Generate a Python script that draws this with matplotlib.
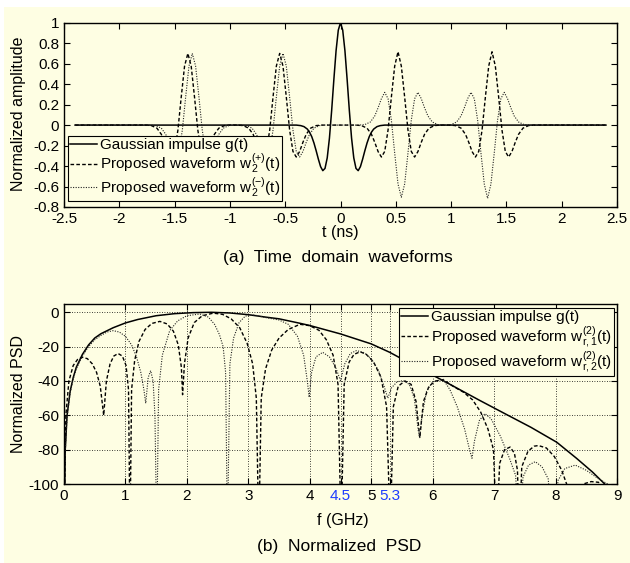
import matplotlib
matplotlib.use("Agg")
import matplotlib.pyplot as plt
from matplotlib.patches import Rectangle

plt.rcParams['font.family'] = ['Liberation Sans', 'DejaVu Sans']
plt.rcParams['mathtext.fontset'] = 'custom'
plt.rcParams['mathtext.rm'] = 'Liberation Sans'
plt.rcParams['mathtext.it'] = 'Liberation Sans:italic'
plt.rcParams['axes.unicode_minus'] = False

# ---- (a) time domain waveforms ----
t_gauss = [-2.40, -0.40, -0.36, -0.33, -0.30, -0.28, -0.26, -0.24, -0.22, -0.20, -0.18,
           -0.16, -0.14, -0.12, -0.10, -0.08, -0.06, -0.04, -0.02, 0.00, 0.02, 0.04,
           0.06, 0.08, 0.10, 0.12, 0.14, 0.16, 0.18, 0.20, 0.22, 0.24, 0.26, 0.28,
           0.30, 0.33, 0.36, 0.40, 2.40]
amp_gauss = [0, 0, -0.005, -0.015, -0.039, -0.069, -0.113, -0.175, -0.251, -0.333, -0.406,
             -0.445, -0.423, -0.320, -0.127, 0.142, 0.445, 0.727, 0.927, 1.0, 0.927, 0.727,
             0.445, 0.142, -0.127, -0.320, -0.423, -0.445, -0.406, -0.333, -0.251, -0.175,
             -0.113, -0.069, -0.039, -0.015, -0.005, 0, 0]

t_wplus = [-2.40,
           -1.76, -1.71, -1.66, -1.62, -1.59, -1.56, -1.53, -1.50, -1.47, -1.44, -1.41, -1.38,
           -1.35, -1.32, -1.29, -1.26, -1.23, -1.20, -1.17, -1.14, -1.10, -1.05, -1.00,
           -0.93, -0.88, -0.83, -0.79, -0.76, -0.73, -0.70, -0.67, -0.64, -0.61, -0.58, -0.55,
           -0.52, -0.49, -0.46, -0.43, -0.40, -0.37, -0.34, -0.31, -0.27, -0.22, -0.17,
           0.14, 0.19, 0.24, 0.28, 0.31, 0.34, 0.37, 0.40, 0.43, 0.46, 0.49, 0.52,
           0.55, 0.58, 0.61, 0.64, 0.67, 0.70, 0.73, 0.76, 0.80, 0.85, 0.90,
           0.99, 1.04, 1.09, 1.13, 1.16, 1.19, 1.22, 1.25, 1.28, 1.31, 1.34, 1.37,
           1.40, 1.43, 1.46, 1.49, 1.52, 1.55, 1.58, 1.61, 1.65, 1.70, 1.75,
           2.40]
amp_wplus = [0,
             0, -0.005, -0.030, -0.090, -0.169, -0.259, -0.312, -0.257, -0.048, 0.274, 0.576, 0.700,
             0.576, 0.274, -0.048, -0.257, -0.312, -0.259, -0.169, -0.090, -0.030, -0.005, 0,
             0, -0.005, -0.030, -0.090, -0.169, -0.259, -0.312, -0.257, -0.048, 0.274, 0.576, 0.700,
             0.576, 0.274, -0.048, -0.257, -0.312, -0.259, -0.169, -0.090, -0.030, -0.005, 0,
             0, -0.005, -0.030, -0.090, -0.169, -0.259, -0.312, -0.257, -0.048, 0.274, 0.576, 0.716,
             0.576, 0.274, -0.048, -0.257, -0.312, -0.259, -0.169, -0.090, -0.030, -0.005, 0,
             0, -0.005, -0.030, -0.090, -0.169, -0.259, -0.312, -0.257, -0.048, 0.274, 0.576, 0.716,
             0.576, 0.274, -0.048, -0.257, -0.312, -0.259, -0.169, -0.090, -0.030, -0.005, 0,
             0]

t_wminus = [-2.40,
            -1.72, -1.67, -1.62, -1.58, -1.55, -1.52, -1.49, -1.46, -1.43, -1.40, -1.37, -1.34,
            -1.31, -1.28, -1.25, -1.22, -1.19, -1.16, -1.13, -1.10, -1.06, -1.01, -0.96,
            -0.90, -0.85, -0.80, -0.76, -0.73, -0.70, -0.67, -0.64, -0.61, -0.58, -0.55, -0.52,
            -0.49, -0.46, -0.43, -0.40, -0.37, -0.34, -0.31, -0.28, -0.24, -0.19, -0.14,
            0.17, 0.22, 0.27, 0.31, 0.34, 0.37, 0.40, 0.43, 0.46, 0.49, 0.52, 0.55,
            0.58, 0.61, 0.64, 0.67, 0.70, 0.73, 0.76, 0.79, 0.83, 0.88, 0.93,
            0.95, 1.00, 1.05, 1.09, 1.12, 1.15, 1.18, 1.21, 1.24, 1.27, 1.30, 1.33,
            1.36, 1.39, 1.42, 1.45, 1.48, 1.51, 1.54, 1.57, 1.61, 1.66, 1.71,
            2.40]
amp_wminus = [0,
              0, -0.005, -0.030, -0.090, -0.169, -0.259, -0.312, -0.257, -0.048, 0.274, 0.576, 0.700,
              0.576, 0.274, -0.048, -0.257, -0.312, -0.259, -0.169, -0.090, -0.030, -0.005, 0,
              0, -0.005, -0.030, -0.090, -0.169, -0.259, -0.312, -0.257, -0.048, 0.274, 0.576, 0.700,
              0.576, 0.274, -0.048, -0.257, -0.312, -0.259, -0.169, -0.090, -0.030, -0.005, 0,
              0, 0.005, 0.030, 0.090, 0.169, 0.259, 0.320, 0.257, 0.048, -0.274, -0.576, -0.705,
              -0.576, -0.274, 0.048, 0.257, 0.320, 0.259, 0.169, 0.090, 0.030, 0.005, 0,
              0, 0.005, 0.030, 0.090, 0.169, 0.259, 0.320, 0.257, 0.048, -0.274, -0.576, -0.716,
              -0.576, -0.274, 0.048, 0.257, 0.320, 0.259, 0.169, 0.090, 0.030, 0.005, 0,
              0]

t_ticks = [-2.5, -2, -1.5, -1, -0.5, 0, 0.5, 1, 1.5, 2, 2.5]
t_ticklabels = ['-2.5', '-2', '-1.5', '-1', '-0.5', '0', '0.5', '1', '1.5', '2', '2.5']
amp_ticks = [-0.8, -0.6, -0.4, -0.2, 0, 0.2, 0.4, 0.6, 0.8, 1]
amp_ticklabels = ['-0.8', '-0.6', '-0.4', '-0.2', '0', '0.2', '0.4', '0.6', '0.8', '1']

# ---- (b) normalized PSD (dB) ----
f_gauss = [0.0, 0.02, 0.05, 0.10, 0.15, 0.20, 0.30, 0.40, 0.50, 0.60, 0.80, 1.00, 1.20,
           1.50, 1.80, 2.10, 2.40, 2.70, 3.00, 3.30, 3.50, 3.84, 4.00, 4.50, 5.00, 5.30,
           5.70, 6.17, 6.77, 7.20, 7.60, 8.02, 8.34, 8.60, 8.80]
psd_gauss = [-130, -80, -60, -46, -38, -32, -24.5, -19, -15, -12.5, -9, -6.2, -4.2,
             -2.0, -0.8, -0.2, 0, -0.4, -1.4, -2.9, -3.8, -6.4, -7.7, -12.6, -18.4, -23.3,
             -31, -39.8, -51.4, -59.5, -67, -75.7, -85, -93, -100]

f_r1 = [0.0, 0.03, 0.08, 0.15, 0.22, 0.30, 0.38, 0.46, 0.53, 0.59, 0.646, 0.69, 0.75, 0.81,
        0.88, 0.95, 1.01, 1.05, 1.074, 1.10, 1.15, 1.22, 1.32, 1.43, 1.56, 1.68, 1.78, 1.86,
        1.91, 1.93, 1.96, 2.02, 2.12, 2.25, 2.43, 2.58, 2.72, 2.86, 2.98, 3.07, 3.13, 3.17,
        3.21, 3.28, 3.38, 3.50, 3.65, 3.84, 4.00, 4.15, 4.27, 4.38, 4.46, 4.51, 4.56, 4.64,
        4.72, 4.82, 4.92, 5.04, 5.16, 5.25, 5.31, 5.36, 5.44, 5.55, 5.65, 5.73, 5.79, 5.85,
        5.94, 6.05, 6.17, 6.35, 6.50, 6.65, 6.78, 6.90, 6.99, 7.04, 7.09, 7.17, 7.26, 7.33,
        7.38, 7.41, 7.45, 7.55, 7.65, 7.72, 7.85, 7.98, 8.10, 8.18, 8.22, 8.30, 8.45, 8.58,
        8.70, 8.80]
psd_r1 = [-130, -60, -40, -31, -27.5, -26.2, -27, -30, -35, -43, -60, -40, -30, -25.5,
          -24, -25.5, -31, -45, -130, -45, -28, -17, -10, -6.5, -5.3, -6.8, -11, -19,
          -32, -48, -30, -15, -6, -2, -0.5, -1.2, -3.8, -9, -18, -30, -50, -130,
          -50, -33, -22, -15, -10, -7, -7.8, -10.5, -16, -25, -42, -130, -42, -29,
          -24.5, -23, -24.5, -29, -38, -55, -130, -55, -43, -40, -42, -52, -73, -52,
          -43, -40, -39.3, -43.5, -46.5, -51, -58, -68, -80, -130, -88, -80, -78.5, -82,
          -92, -130, -90, -81, -78, -77.6, -79, -84, -92, -100, -130, -105, -100, -98.6,
          -99, -130]

f_r2 = [0.0, 0.02, 0.05, 0.10, 0.15, 0.20, 0.30, 0.40, 0.50, 0.60, 0.70, 0.80, 0.90, 1.00,
        1.10, 1.18, 1.25, 1.30, 1.33, 1.37, 1.41, 1.45, 1.48, 1.51, 1.54, 1.60, 1.72, 1.85,
        2.00, 2.21, 2.35, 2.45, 2.53, 2.59, 2.63, 2.66, 2.70, 2.76, 2.85, 2.95, 3.10, 3.30,
        3.50, 3.65, 3.80, 3.90, 3.96, 3.99, 4.03, 4.10, 4.21, 4.32, 4.42, 4.50, 4.57, 4.66,
        4.76, 4.88, 5.00, 5.12, 5.20, 5.27, 5.33, 5.42, 5.52, 5.62, 5.70, 5.77, 5.79, 5.82,
        5.90, 6.00, 6.17, 6.28, 6.40, 6.52, 6.60, 6.64, 6.68, 6.76, 6.85, 6.95, 7.10, 7.25,
        7.35, 7.41, 7.47, 7.56, 7.67, 7.78, 7.88, 7.96, 8.04, 8.15, 8.32, 8.50, 8.70, 8.85,
        8.88]
psd_r2 = [-130, -81, -61, -47, -39, -33, -25.5, -20, -16, -13.5, -11.5, -10.7, -11.5, -14,
          -19, -26, -35, -45, -53, -38, -34, -40, -60, -130, -45, -25, -10.7, -5,
          -2, -1.0, -2.8, -7, -13, -20, -35, -130, -30, -15, -6, -2.2, -1.6, -3.2,
          -4.5, -7, -14, -25, -40, -49.5, -35, -26, -23.3, -26, -32, -39.8, -30, -24,
          -22.3, -23.5, -27, -34, -42, -50, -44, -40.5, -39.8, -42, -50, -70, -73, -62,
          -46, -40.5, -39, -45, -55, -68, -80, -85, -75, -63, -59, -62, -72, -85,
          -95, -130, -96, -89, -87, -90, -97, -130, -98, -91, -89, -92, -97, -100,
          -130]

f_ticks = [0, 1, 2, 3, 4, 4.5, 5, 5.3, 6, 7, 8, 9]
f_ticklabels = ['0', '1', '2', '3', '4', '4.5', '5', '5.3', '6', '7', '8', '9']
f_blue = ['4.5', '5.3']
psd_ticks = [-100, -80, -60, -40, -20, 0]
psd_ticklabels = ['-100', '-80', '-60', '-40', '-20', '0']

labels_a = ['Gaussian impulse g(t)',
            r'Proposed waveform w$_{\mathrm{2}}^{\mathrm{(+)}}$(t)',
            r'Proposed waveform w$_{\mathrm{2}}^{\mathrm{(-)}}$(t)']
labels_b = ['Gaussian impulse g(t)',
            r'Proposed waveform w$_{\mathrm{r,1}}^{\mathrm{(2)}}$(t)',
            r'Proposed waveform w$_{\mathrm{r,2}}^{\mathrm{(2)}}$(t)']

W, H = 630, 563
cream = '#FEFEE3'
fig = plt.figure(figsize=(W / 100, H / 100), dpi=100)
fig.patch.set_facecolor('white')
fig.patches.append(Rectangle((4 / W, 0), 1, 1 - 7 / H, transform=fig.transFigure,
                             facecolor=cream, edgecolor='none', zorder=-10))


def px(x, y):
    return x / W, 1 - y / H


def style_axes(ax):
    ax.set_facecolor(cream)
    ax.tick_params(direction='in', length=4, width=0.8, top=True, right=True,
                   labelsize=11, pad=3.5, colors='black')
    for s in ax.spines.values():
        s.set_linewidth(1.0)
        s.set_color('black')


solid_kw = dict(color='black', lw=1.1)
dash_kw = dict(color='black', lw=1.0, ls=(0, (2.6, 1.6)))
dot_kw = dict(color='#222222', lw=0.8, ls=(0, (1.0, 1.3)))
leg_kw = dict(borderaxespad=0, fontsize=11, handlelength=1.75, handletextpad=0.2,
              labelspacing=0.0, borderpad=0.15, fancybox=False, framealpha=1,
              facecolor=cream, edgecolor='black')

# top panel
ax1 = fig.add_axes([64 / W, 1 - 207 / H, 553 / W, 184.3 / H])
style_axes(ax1)
ax1.plot(t_gauss, amp_gauss, **solid_kw, label=labels_a[0])
ax1.plot(t_wplus, amp_wplus, **dash_kw, label=labels_a[1])
ax1.plot(t_wminus, amp_wminus, **dot_kw, label=labels_a[2])
ax1.set_xlim(-2.5, 2.5)
ax1.set_ylim(-0.8, 1)
ax1.set_xticks(t_ticks)
ax1.set_xticklabels(t_ticklabels)
ax1.set_yticks(amp_ticks)
ax1.set_yticklabels(amp_ticklabels)
leg1 = ax1.legend(loc='lower left', bbox_to_anchor=(0.007, 0.033), **leg_kw)
leg1.get_frame().set_linewidth(0.8)

# bottom panel
ax2 = fig.add_axes([64 / W, 1 - 484 / H, 553 / W, 180.3 / H])
style_axes(ax2)
ax2.plot(f_gauss, psd_gauss, **solid_kw, label=labels_b[0])
ax2.plot(f_r1, psd_r1, **dash_kw, label=labels_b[1])
ax2.plot(f_r2, psd_r2, **dot_kw, label=labels_b[2])
ax2.set_xlim(0, 9)
ax2.set_ylim(-100, 5)
ax2.set_xticks(f_ticks)
ax2.set_xticklabels(f_ticklabels)
ax2.set_yticks(psd_ticks)
ax2.set_yticklabels(psd_ticklabels)
for lab in ax2.get_xticklabels():
    if lab.get_text() in f_blue:
        lab.set_color('#1d3cff')
ax2.grid(True, color='black', ls=(0, (1, 2)), lw=0.6)
leg2 = ax2.legend(loc='upper right', bbox_to_anchor=(0.9946, 0.976), **leg_kw)
leg2.get_frame().set_linewidth(0.8)

# labels and captions
fig.text(*px(340, 233), 't (ns)', ha='center', va='center', fontsize=11.5)
fig.text(*px(338, 258), '(a)  Time  domain  waveforms', ha='center', va='center', fontsize=12.5)
fig.text(*px(19, 114), 'Normalized amplitude', ha='center', va='center', rotation=90, fontsize=11.5)
fig.text(*px(343, 520), 'f (GHz)', ha='center', va='center', fontsize=11.5)
fig.text(*px(339, 547), '(b)  Normalized  PSD', ha='center', va='center', fontsize=12.5)
fig.text(*px(19, 394), 'Normalized PSD', ha='center', va='center', rotation=90, fontsize=11.5)

fig.savefig('out.png', dpi=100, facecolor=fig.get_facecolor())
